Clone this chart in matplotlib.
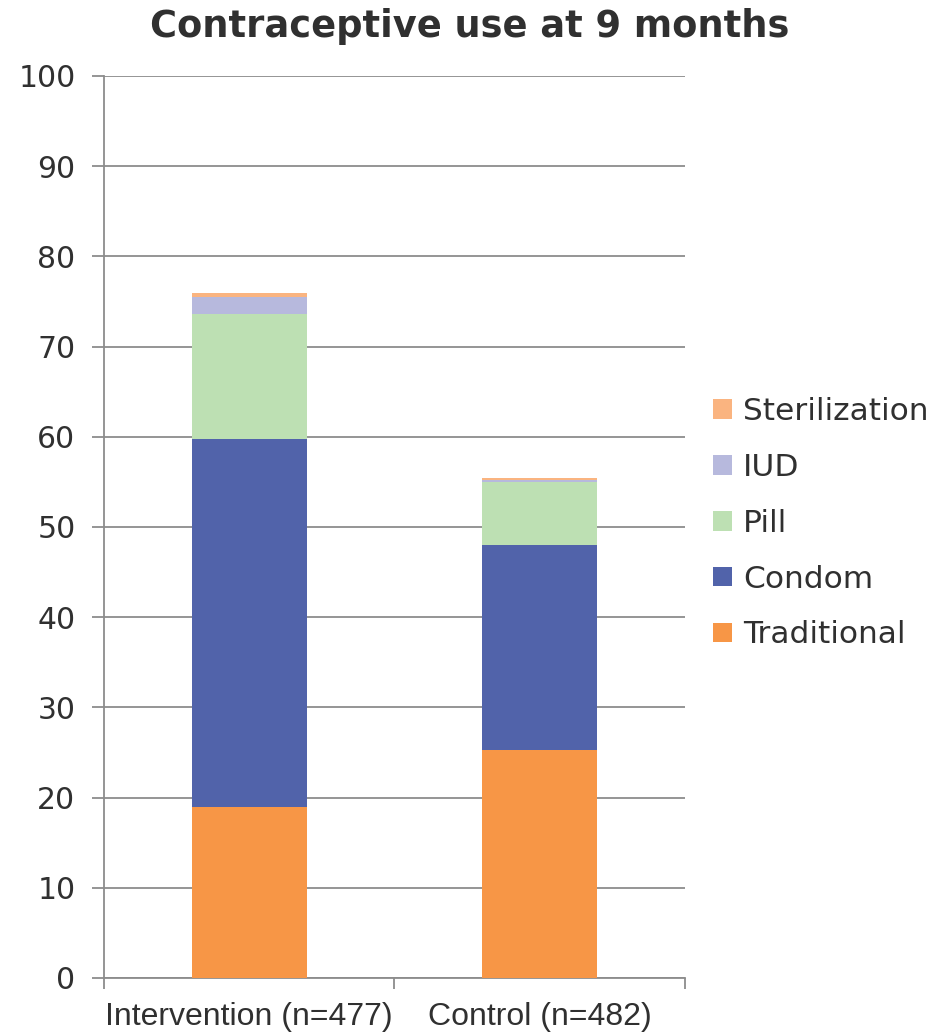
import matplotlib.pyplot as plt
import numpy as np

groups = ["Intervention (n=477)", "Control (n=482)"]
methods = ["Traditional", "Condom", "Pill", "IUD", "Sterilization"]
traditional = [19.0, 25.3]
condom = [40.8, 22.7]
pill = [13.8, 7.0]
iud = [1.9, 0.25]
sterilization = [0.4, 0.2]

colors = ["#F79646", "#5163AA", "#BDE0B3", "#B7B9DD", "#FAB480"]
text_color = "#303030"

fig = plt.figure(figsize=(9.4, 10.34), dpi=100)
ax = fig.add_axes([0.1106, 0.0542, 0.6181, 0.8723])

x = np.arange(len(groups))
bottom = np.zeros(len(groups))
for name, vals, c in zip(methods, [traditional, condom, pill, iud, sterilization], colors):
    ax.bar(x, vals, width=0.396, bottom=bottom, color=c, label=name, zorder=3)
    bottom += np.array(vals)

ax.set_xlim(-0.5, 1.5)
ax.set_ylim(0, 100)
ax.set_yticks(range(0, 101, 10))
ax.yaxis.grid(True, color="#8c8c8c", linewidth=1.3, zorder=0)

# category boundaries get the tick marks, labels sit between them
ax.set_xticks([-0.5, 0.5, 1.5], minor=False)
ax.set_xticklabels([])
ax.set_xticks(x, minor=True)
ax.set_xticklabels(groups, minor=True, fontsize=23, family="Liberation Sans",
                   color=text_color)
ax.tick_params(axis="x", which="minor", length=0, pad=17)
ax.tick_params(axis="x", which="major", length=8, color="#8c8c8c", width=1.3)
ax.tick_params(axis="y", length=9, color="#8c8c8c", width=1.3, pad=11.5)
for lbl in ax.get_yticklabels():
    lbl.set_fontsize(21.5)
    lbl.set_family("DejaVu Sans")
    lbl.set_color(text_color)

for s in ["top", "right"]:
    ax.spines[s].set_visible(False)
for s in ["left", "bottom"]:
    ax.spines[s].set_color("#8c8c8c")
    ax.spines[s].set_linewidth(1.3)

fig.suptitle("Contraceptive use at 9 months", x=0.5, y=0.974, va="center",
             fontsize=26.5, fontweight="bold", color=text_color)

handles, labels = ax.get_legend_handles_labels()
leg = fig.legend(handles[::-1], labels[::-1], loc="center left", bbox_to_anchor=(0.759, 0.494),
                 frameon=False, fontsize=22.5, handlelength=0.6, handleheight=0.6,
                 handletextpad=0.35, labelspacing=0.86, labelcolor=text_color,
                 borderpad=0, borderaxespad=0)

fig.savefig("out.png", dpi=100)
